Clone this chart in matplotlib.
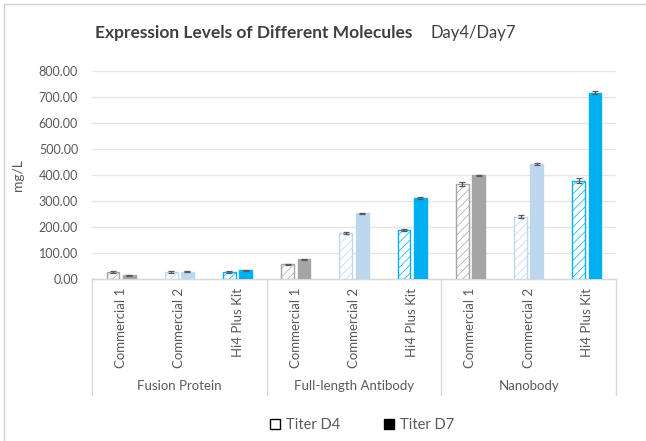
import numpy as np
import matplotlib
matplotlib.use("Agg")
import matplotlib.pyplot as plt
from matplotlib.lines import Line2D
from matplotlib.patches import Patch
import matplotlib.transforms as mtransforms

plt.rcParams['font.family'] = ['Lato', 'DejaVu Sans']
plt.rcParams['hatch.linewidth'] = 0.5

groups = ["Fusion Protein", "Full-length Antibody", "Nanobody"]
kits = ["Commercial 1", "Commercial 2", "Hi4 Plus Kit"]

# mg/L, order: group x kit
titer_d4 = [27, 26, 26, 56, 175, 188, 364, 240, 377]
titer_d7 = [15, 27, 34, 75, 252, 311, 398, 441, 715]
err_d4 = [4, 3, 3, 2, 4, 4, 8, 5, 9]
err_d7 = [2, 2, 2, 2, 3, 3, 3, 4, 6]

kit_colors = ["#A5A5A5", "#BDD7EE", "#00B0F0"]
text_gray = "#595959"
grid_gray = "#E6E6E6"
axis_gray = "#D9D9D9"

fig = plt.figure(figsize=(6.46, 4.41), dpi=100)
ax = fig.add_axes([92 / 646, 1 - 279 / 441, (616 - 92) / 646, (279 - 70.7) / 441])

n = len(groups) * len(kits)
x = np.arange(n)
colors = [kit_colors[i % 3] for i in range(n)]
w = 0.22
off = 0.14

ax.bar(x - off, titer_d4, width=w, color="white", edgecolor=colors, hatch="////",
       linewidth=1.0, zorder=3)
ax.bar(x + off, titer_d7, width=w, color=colors, edgecolor=colors, linewidth=1.0, zorder=3)
ax.errorbar(x - off, titer_d4, yerr=err_d4, fmt="none", ecolor="#595959",
            elinewidth=0.9, capsize=2.5, capthick=0.9, zorder=4)
ax.errorbar(x + off, titer_d7, yerr=err_d7, fmt="none", ecolor="#595959",
            elinewidth=0.9, capsize=2.5, capthick=0.9, zorder=4)

ax.set_xlim(-0.5, n - 0.5)
ax.set_ylim(0, 800)
ax.set_yticks(np.arange(0, 801, 100))
ax.set_yticklabels([f"{v:.2f}" for v in np.arange(0, 801, 100)])
ax.yaxis.grid(True, color=grid_gray, linewidth=1.0, zorder=0)
ax.set_axisbelow(True)
ax.tick_params(axis="y", length=0, labelsize=9, labelcolor=text_gray, pad=10)
ax.tick_params(axis="x", length=0, labelbottom=False)
for s in ["top", "right", "left"]:
    ax.spines[s].set_visible(False)
ax.spines["bottom"].set_color(axis_gray)
ax.spines["bottom"].set_linewidth(1.0)

ax.set_ylabel("mg/L", fontsize=10, color=text_gray)
ax.yaxis.set_label_coords(-0.13, 0.5)

# category labels and group separators
trans = mtransforms.blended_transform_factory(ax.transData, ax.transAxes)
for i in range(n):
    ax.text(x[i], -0.043, kits[i % 3], transform=trans, rotation=90, ha="center",
            va="top", fontsize=9.5, color=text_gray)
for g, name in enumerate(groups):
    ax.text(g * 3 + 1, -0.514, name, transform=trans, ha="center", va="center",
            fontsize=9.5, color=text_gray)
for b in [-0.5, 2.5, 5.5, 8.5]:
    ax.plot([b, b], [0, -0.557], transform=trans, color=axis_gray, linewidth=1.0,
            clip_on=False)

# title
fig.text(95 / 646, 1 - 33 / 441, "Expression Levels of Different Molecules",
         fontsize=12.5, fontweight="bold", color="#404040", ha="left", va="center")
fig.text(430 / 646, 1 - 33 / 441, "Day4/Day7", fontsize=12, color="#404040",
         ha="left", va="center")

# legend
handles = [Patch(facecolor="white", edgecolor="black", linewidth=1.0),
           Patch(facecolor="black", edgecolor="black")]
fig.legend(handles, ["Titer D4", "Titer D7"], loc="center", ncol=2,
           bbox_to_anchor=(362 / 646, 1 - 425 / 441), frameon=False,
           fontsize=10.5, labelcolor=text_gray, handlelength=0.7, handleheight=0.7,
           columnspacing=3.0, handletextpad=0.4)

# outer chart border (left and top)
fig.add_artist(Line2D([4 / 646, 4 / 646], [0, 1 - 4 / 441], color="#D0D0D0", linewidth=1.0))
fig.add_artist(Line2D([4 / 646, 1], [1 - 4 / 441, 1 - 4 / 441], color="#D0D0D0", linewidth=1.0))

fig.savefig("out.png", dpi=100)
